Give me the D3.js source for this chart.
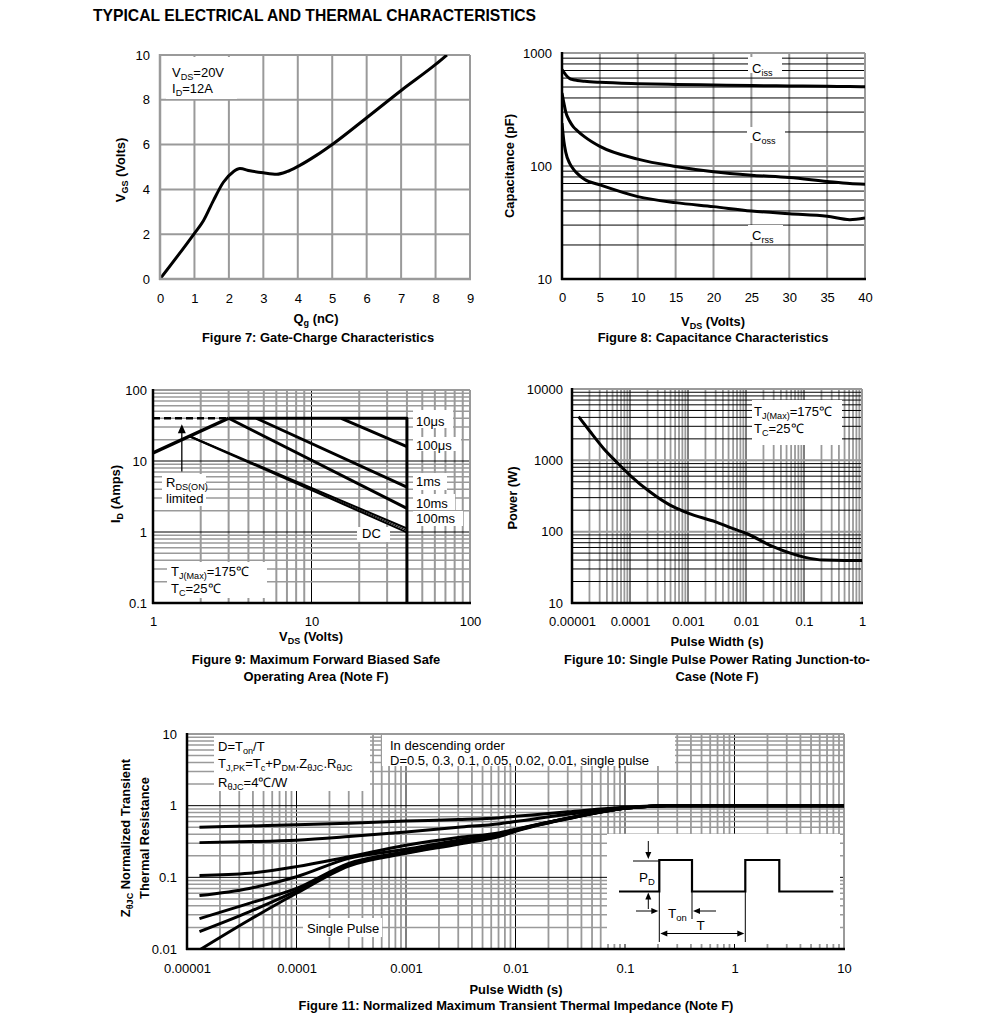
<!DOCTYPE html>
<html>
<head>
<meta charset="utf-8">
<script src="https://d3js.org/d3.v7.min.js"></script>
<style>
  body { margin: 0; background: #fff; }
  svg text { font-family: "Liberation Sans", Arial, sans-serif; fill: #000; }
</style>
</head>
<body>
<script>
// ---- Figure 7: gate charge
var qg  = [0, 1.0, 1.26, 1.55, 1.84, 2.13, 2.32, 2.61, 3.0, 3.39, 3.68, 4.02, 4.55, 5.03, 6.0, 7.02, 8.02, 8.33];
var vgs = [0, 2.04, 2.6, 3.5, 4.32, 4.79, 4.93, 4.83, 4.74, 4.68, 4.79, 5.04, 5.53, 6.04, 7.2, 8.44, 9.6, 10];
var qgTicks  = [0, 1, 2, 3, 4, 5, 6, 7, 8, 9];
var vgsTicks = [0, 2, 4, 6, 8, 10];

// ---- Figure 8: capacitance
var capVds = [0, 0.25, 0.5, 1, 1.5, 2, 3, 5, 10, 15, 20, 25, 30, 35, 38, 40];
var ciss   = [712, 675, 640, 595, 580, 572, 562, 550, 535, 527, 521, 515, 511, 507, 505, 503];
var coss   = [442, 360, 300, 250, 222, 206, 181, 149, 115, 99, 89, 83, 79, 73, 70, 69];
var crss   = [240, 165, 132, 106, 94, 86, 76, 68, 53.6, 47.4, 43.7, 40, 37.8, 35.9, 33.5, 34.7];
var capXTicks = [0, 5, 10, 15, 20, 25, 30, 35, 40];
var capYTicks = [10, 100, 1000];

// ---- Figure 9: safe operating area (V, A)
var soaDashV = [1, 3],         soaDashI = [40, 40];
var soaRdsV  = [1, 3],         soaRdsI  = [13, 40];
var soa10usV = [3, 40, 40],    soa10usI = [40, 40, 0.1];
var soa100usV = [15.4, 40],    soa100usI = [40, 16];
var soa1msV  = [4.48, 40],     soa1msI  = [40, 4.3];
var soa10msV = [3, 40],        soa10msI = [40, 2.15];
var soa100msV = [1.7, 40],     soa100msI = [22.3, 1.12];
var soa1sV   = [1.7, 40],      soa1sI   = [22.3, 1.05];
var soaDcV   = [1.7, 40],      soaDcI   = [22.3, 0.99];
var soaXTicks = [1, 10, 100];
var soaYTicks = [0.1, 1, 10, 100];

// ---- Figure 10: single pulse power
var pwT = [1.3e-5, 2e-5, 3.5e-5, 6e-5, 1e-4, 2.2e-4, 5e-4, 1e-3, 3e-3, 6e-3, 1e-2, 3e-2, 0.1, 0.22, 0.5, 1];
var pwP = [4090, 2600, 1470, 930, 617, 363, 234, 182, 137, 110, 95, 61, 44, 40, 39.5, 39.5];
var pwXTicks = [0.00001, 0.0001, 0.001, 0.01, 0.1, 1];
var pwYTicks = [10, 100, 1000, 10000];

// ---- Figure 11: transient thermal impedance
var zT      = [1.3e-5, 3.7e-5, 1e-4, 3e-4, 1e-3, 3e-3, 7.2e-3, 1e-2, 3e-2, 0.1, 0.24, 1, 10];
var zD050   = [0.50, 0.52, 0.54, 0.57, 0.61, 0.64, 0.68, 0.71, 0.82, 0.95, 1, 1, 1];
var zD030   = [0.305, 0.315, 0.33, 0.37, 0.43, 0.50, 0.56, 0.60, 0.76, 0.93, 1, 1, 1];
var zD010   = [0.106, 0.114, 0.141, 0.194, 0.28, 0.36, 0.42, 0.47, 0.67, 0.92, 1, 1, 1];
var zD005   = [0.0556, 0.070, 0.102, 0.184, 0.246, 0.33, 0.40, 0.46, 0.67, 0.92, 1, 1, 1];
var zD002   = [0.0265, 0.0434, 0.070, 0.157, 0.228, 0.31, 0.385, 0.45, 0.665, 0.92, 1, 1, 1];
var zD001   = [0.0175, 0.033, 0.0645, 0.149, 0.22, 0.30, 0.38, 0.445, 0.66, 0.92, 1, 1, 1];
var zSingle = [0.0097, 0.0254, 0.060, 0.144, 0.216, 0.29, 0.375, 0.44, 0.655, 0.92, 1, 1, 1];
var zXTicks = [0.00001, 0.0001, 0.001, 0.01, 0.1, 1, 10];
var zYTicks = [0.01, 0.1, 1, 10];

var GRAY = "#9a9a9a";
var TICK = 13, TXT = 13, BOLD = 12.9;
var clipN = 0;

var svg = d3.select("body").append("svg").attr("width", 991).attr("height", 1031);

function sub(t) { return {t: t, sub: true}; }

// text with subscripts
function rich(g, x, y, parts, size, weight, anchor, rotate) {
  var t = g.append("text").attr("x", x).attr("y", y)
    .style("font-size", size + "px")
    .style("font-weight", weight || "normal")
    .attr("text-anchor", anchor || "start");
  if (rotate) t.attr("transform", "rotate(-90," + x + "," + y + ")");
  var cur = 0;
  parts.forEach(function(p) {
    if (typeof p === "string") p = {t: p};
    var off = p.sub ? size * 0.25 : 0;
    t.append("tspan").attr("dy", off - cur)
      .style("font-size", p.sub ? (size * 0.7) + "px" : null)
      .text(p.t);
    cur = off;
  });
  return t;
}

function logGrid(lo, hi) {
  var major = [], minor = [];
  var e0 = Math.round(Math.log10(lo)), e1 = Math.round(Math.log10(hi));
  for (var e = e0; e < e1; e++) {
    var b = Math.pow(10, e);
    if (e > e0) major.push(b);
    for (var k = 2; k <= 9; k++) minor.push(+(k * b).toPrecision(3));
  }
  return {major: major, minor: minor};
}

function panel(o) {
  var g = svg.append("g");
  var x = (o.xlog ? d3.scaleLog() : d3.scaleLinear()).domain(o.xd).range([o.l, o.r]);
  var y = (o.ylog ? d3.scaleLog() : d3.scaleLinear()).domain(o.yd).range([o.b, o.t]);
  var id = "clip" + (++clipN);
  svg.append("clipPath").attr("id", id).append("rect")
    .attr("x", o.l).attr("y", o.t).attr("width", o.r - o.l).attr("height", o.b - o.t);

  var grid = g.append("g");
  o.vgrid.forEach(function(s) {
    grid.selectAll(null).data(s.v).enter().append("line")
      .attr("x1", function(d) { return x(d); }).attr("x2", function(d) { return x(d); })
      .attr("y1", o.t).attr("y2", o.b)
      .attr("stroke", s.c).attr("stroke-width", s.w);
  });
  o.hgrid.forEach(function(s) {
    grid.selectAll(null).data(s.v).enter().append("line")
      .attr("y1", function(d) { return y(d); }).attr("y2", function(d) { return y(d); })
      .attr("x1", o.l).attr("x2", o.r)
      .attr("stroke", s.c).attr("stroke-width", s.w);
  });
  // white annotation boxes over the grid
  (o.boxes || []).forEach(function(b) {
    g.append("rect").attr("x", b[0]).attr("y", b[1]).attr("width", b[2]).attr("height", b[3]).attr("fill", "#fff");
  });

  // frame
  g.append("line").attr("x1", o.l).attr("x2", o.r).attr("y1", o.t).attr("y2", o.t).attr("stroke", GRAY).attr("stroke-width", 2);
  g.append("line").attr("x1", o.r).attr("x2", o.r).attr("y1", o.t).attr("y2", o.b).attr("stroke", GRAY).attr("stroke-width", 2);
  var plot = g.append("g").attr("clip-path", "url(#" + id + ")");
  var front = g.append("g");
  front.append("line").attr("x1", o.l).attr("x2", o.l).attr("y1", o.t - 1).attr("y2", o.b + 1).attr("stroke", o.axisColor).attr("stroke-width", 2.5);
  front.append("line").attr("x1", o.l - 1).attr("x2", o.r + 1).attr("y1", o.b).attr("y2", o.b).attr("stroke", o.axisColor).attr("stroke-width", 2.5);

  var fmt = function(d) { return String(d); };
  var xa = g.append("g").attr("transform", "translate(0," + o.b + ")")
    .call(d3.axisBottom(x).tickValues(o.xt).tickSize(0).tickPadding(o.xpad).tickFormat(fmt));
  xa.select(".domain").remove();
  xa.attr("font-size", TICK).attr("font-family", null);
  var ya = g.append("g").attr("transform", "translate(" + o.l + ",0)")
    .call(d3.axisLeft(y).tickValues(o.yt).tickSize(0).tickPadding(o.ypad).tickFormat(fmt));
  ya.select(".domain").remove();
  ya.attr("font-size", TICK).attr("font-family", null);

  return {g: g, plot: plot, front: front, x: x, y: y};
}

function curve(p, xs, ys, w, smooth, dash) {
  var pts = xs.map(function(v, i) { return [p.x(v), p.y(ys[i])]; });
  var line = d3.line();
  if (smooth) line.curve(d3.curveMonotoneX);
  var path = p.plot.append("path").attr("d", line(pts))
    .attr("fill", "none").attr("stroke", "#000").attr("stroke-width", w)
    .attr("stroke-linejoin", "round");
  if (dash) path.attr("stroke-dasharray", dash);
  return path;
}

// ================= Title =================
svg.append("text").attr("x", 93).attr("y", 21)
  .style("font-size", "15.7px").style("font-weight", "bold")
  .text("TYPICAL ELECTRICAL AND THERMAL CHARACTERISTICS");

// ================= Figure 7 =================
var p7 = panel({
  l: 160, r: 470, t: 55, b: 279, xd: [0, 9], yd: [0, 10],
  vgrid: [{v: qgTicks.slice(1, -1), c: GRAY, w: 2}],
  hgrid: [{v: vgsTicks.slice(1, -1), c: GRAY, w: 2}],
  boxes: [[166, 57, 71, 42]],
  axisColor: GRAY, xt: qgTicks, yt: vgsTicks, xpad: 14.5, ypad: 10
});
curve(p7, qg, vgs, 3, true);
rich(svg, 172, 77, ["V", sub("DS"), "=20V"], TXT);
rich(svg, 172, 93, ["I", sub("D"), "=12A"], TXT);
rich(svg, 316, 323, ["Q", sub("g"), " (nC)"], BOLD, "bold", "middle");
rich(svg, 318, 342, ["Figure 7: Gate-Charge Characteristics"], BOLD, "bold", "middle");
rich(svg, 125, 170, ["V", sub("GS"), " (Volts)"], BOLD, "bold", "middle", true);

// ================= Figure 8 =================
var g8 = logGrid(10, 1000);
var p8 = panel({
  l: 562, r: 865, t: 53, b: 279, xd: [0, 40], yd: [10, 1000], ylog: true,
  vgrid: [{v: capXTicks.slice(1, -1), c: GRAY, w: 2}],
  hgrid: [{v: g8.minor, c: "#000", w: 1}, {v: g8.major, c: GRAY, w: 2}],
  boxes: [[748, 57, 34, 16], [747, 127, 38, 16], [748, 225, 35, 17]],
  axisColor: "#000", xt: capXTicks, yt: capYTicks, xpad: 14, ypad: 10
});
curve(p8, capVds, ciss, 3, true);
curve(p8, capVds, coss, 3, true);
curve(p8, capVds, crss, 3, true);
rich(svg, 752, 73, ["C", sub("iss")], TXT);
rich(svg, 752, 141, ["C", sub("oss")], TXT);
rich(svg, 752, 240, ["C", sub("rss")], TXT);
rich(svg, 713, 326, ["V", sub("DS"), " (Volts)"], BOLD, "bold", "middle");
rich(svg, 713, 342, ["Figure 8: Capacitance Characteristics"], BOLD, "bold", "middle");
rich(svg, 514, 166, ["Capacitance (pF)"], BOLD, "bold", "middle", true);

// ================= Figure 9 =================
var g9x = logGrid(1, 100), g9y = logGrid(0.1, 100);
var p9 = panel({
  l: 153, r: 470, t: 390, b: 603, xd: [1, 100], yd: [0.1, 100], xlog: true, ylog: true,
  vgrid: [{v: g9x.minor, c: GRAY, w: 2}, {v: g9x.major, c: "#000", w: 1}],
  hgrid: [{v: g9y.minor, c: GRAY, w: 1.5}, {v: g9y.major, c: "#000", w: 1}],
  boxes: [[413, 410, 40, 18], [413, 437, 48, 14], [413, 473, 34, 17], [413, 494, 42, 16],
          [413, 511, 50, 15], [357, 527, 33, 15], [162, 474, 44, 32], [167, 562, 100, 36]],
  axisColor: "#000", xt: soaXTicks, yt: soaYTicks, xpad: 14, ypad: 6
});
curve(p9, soaDashV, soaDashI, 2.5, false, "7,4");
curve(p9, soaRdsV, soaRdsI, 3.5);
curve(p9, soa10usV, soa10usI, 3);
curve(p9, soa100usV, soa100usI, 3);
curve(p9, soa1msV, soa1msI, 3);
curve(p9, soa10msV, soa10msI, 3);
curve(p9, soa100msV, soa100msI, 2);
curve(p9, soa1sV, soa1sI, 1);
curve(p9, soaDcV, soaDcI, 2);
// R_DS(ON) arrow
(function() {
  var ax = p9.x(1.52), y0 = p9.y(7.1), y1 = p9.y(33);
  p9.front.append("line").attr("x1", ax).attr("x2", ax).attr("y1", y0).attr("y2", y1 + 8)
    .attr("stroke", "#000").attr("stroke-width", 1.3);
  p9.front.append("path").attr("d", "M" + ax + "," + y1 + "l-4,9h8z").attr("fill", "#000");
})();
rich(svg, 416, 426, ["10μs"], TXT);
rich(svg, 416, 450, ["100μs"], TXT);
rich(svg, 416, 486, ["1ms"], TXT);
rich(svg, 416, 507.5, ["10ms"], TXT);
rich(svg, 416, 523, ["100ms"], TXT);
rich(svg, 362, 537.5, ["DC"], TXT);
rich(svg, 166, 487, ["R", sub("DS(ON)")], TXT);
rich(svg, 166, 503, ["limited"], TXT);
rich(svg, 171, 576, ["T", sub("J(Max)"), "=175℃"], TXT);
rich(svg, 171, 593, ["T", sub("C"), "=25℃"], TXT);
rich(svg, 311, 641, ["V", sub("DS"), " (Volts)"], BOLD, "bold", "middle");
rich(svg, 316, 664, ["Figure 9: Maximum Forward Biased Safe"], BOLD, "bold", "middle");
rich(svg, 316, 681, ["Operating Area (Note F)"], BOLD, "bold", "middle");
rich(svg, 120, 494, ["I", sub("D"), " (Amps)"], BOLD, "bold", "middle", true);

// ================= Figure 10 =================
var g10x = logGrid(1e-5, 1), g10y = logGrid(10, 10000);
var p10 = panel({
  l: 572, r: 862, t: 389, b: 603, xd: [1e-5, 1], yd: [10, 10000], xlog: true, ylog: true,
  vgrid: [{v: g10x.minor, c: GRAY, w: 1.8}, {v: g10x.major, c: "#000", w: 1}],
  hgrid: [{v: g10y.minor, c: "#000", w: 1}, {v: g10y.major, c: GRAY, w: 2}],
  boxes: [[752, 400, 90, 45]],
  axisColor: "#000", xt: pwXTicks, yt: pwYTicks, xpad: 14, ypad: 9
});
curve(p10, pwT, pwP, 3, true);
rich(svg, 754, 416, ["T", sub("J(Max)"), "=175℃"], TXT);
rich(svg, 754, 433, ["T", sub("C"), "=25℃"], TXT);
rich(svg, 717, 646, ["Pulse Width (s)"], BOLD, "bold", "middle");
rich(svg, 717, 664, ["Figure 10: Single Pulse Power Rating Junction-to-"], BOLD, "bold", "middle");
rich(svg, 717, 681, ["Case (Note F)"], BOLD, "bold", "middle");
rich(svg, 517, 498, ["Power (W)"], BOLD, "bold", "middle", true);

// ================= Figure 11 =================
var g11x = logGrid(1e-5, 10), g11y = logGrid(0.01, 10);
var p11 = panel({
  l: 187, r: 844, t: 734, b: 949, xd: [1e-5, 10], yd: [0.01, 10], xlog: true, ylog: true,
  vgrid: [{v: g11x.minor, c: GRAY, w: 1.8}, {v: g11x.major, c: "#000", w: 1}],
  hgrid: [{v: g11y.minor, c: GRAY, w: 1.5}, {v: g11y.major, c: "#000", w: 1}],
  boxes: [[214, 735, 156, 56], [382, 735, 293, 31], [303, 918, 79, 19], [607, 834, 233, 110]],
  axisColor: "#000", xt: zXTicks, yt: zYTicks, xpad: 15, ypad: 10
});
[zD050, zD030, zD010, zD005, zD002, zD001, zSingle].forEach(function(s) {
  curve(p11, zT, s, 3, true);
});
// pulse train sketch inside the inset
(function() {
  var ox = 607, oy = 834, base = oy + 57.5, top = oy + 26;
  var wx = [12, 52.3, 85, 138.3, 172.3, 226.3].map(function(v) { return ox + v; });
  var f = p11.front;
  var d = "M" + wx[0] + "," + base + "H" + wx[1] + "V" + top + "H" + wx[2] + "V" + base +
          "H" + wx[3] + "V" + top + "H" + wx[4] + "V" + base + "H" + wx[5];
  f.append("path").attr("d", d).attr("fill", "none").attr("stroke", "#000").attr("stroke-width", 2.2);
  function ln(x1, y1, x2, y2, w) {
    f.append("line").attr("x1", x1).attr("y1", y1).attr("x2", x2).attr("y2", y2)
      .attr("stroke", "#000").attr("stroke-width", w || 1);
  }
  function head(x, y, dir) { // dir: d,u,r,l
    var s = {d: "l-3,-7h6z", u: "l-3,7h6z", r: "l-7,-3v6z", l: "l7,-3v6z"}[dir];
    f.append("path").attr("d", "M" + x + "," + y + s).attr("fill", "#000");
  }
  var ax = ox + 41.3;
  ln(ox + 26, top + 1, wx[1], top + 1);
  ln(ax, oy + 7, ax, top - 6); head(ax, top - 1, "d");
  ln(ax, oy + 75, ax, base + 6); head(ax, base + 1, "u");
  ln(wx[1], base, wx[1], oy + 108);
  ln(wx[2], base, wx[2], oy + 85);
  ln(wx[3], base, wx[3], oy + 108);
  var ty = oy + 77;
  ln(ox + 29, ty, wx[1] - 6, ty); head(wx[1] - 1, ty, "r");
  ln(ox + 109, ty, wx[2] + 6, ty); head(wx[2] + 1, ty, "l");
  var dy = oy + 99.5;
  ln(wx[1] + 6, dy, wx[3] - 6, dy); head(wx[1] + 1, dy, "l"); head(wx[3] - 1, dy, "r");
  rich(svg, ox + 32, oy + 47.5, ["P", sub("D")], 13.5);
  rich(svg, ox + 61, oy + 84, ["T", sub("on")], 13.5);
  rich(svg, ox + 89.5, oy + 96, ["T"], 13.5);
})();
rich(svg, 218, 750.5, ["D=T", sub("on"), "/T"], TXT);
rich(svg, 218, 768, ["T", sub("J,PK"), "=T", sub("c"), "+P", sub("DM"), ".Z", sub("θJC"), ".R", sub("θJC")], TXT);
rich(svg, 218, 786.5, ["R", sub("θJC"), "=4℃/W"], TXT);
rich(svg, 390, 750, ["In descending order"], TXT);
rich(svg, 390, 765, ["D=0.5, 0.3, 0.1, 0.05, 0.02, 0.01, single pulse"], TXT);
rich(svg, 307, 933, ["Single Pulse"], TXT);
rich(svg, 516, 994, ["Pulse Width (s)"], BOLD, "bold", "middle");
rich(svg, 516, 1010, ["Figure 11: Normalized Maximum Transient Thermal Impedance (Note F)"], BOLD, "bold", "middle");
rich(svg, 130, 838, ["Z", sub("θJC"), " Normalized Transient"], BOLD, "bold", "middle", true);
rich(svg, 149, 838, ["Thermal Resistance"], BOLD, "bold", "middle", true);
</script>
</body>
</html>
